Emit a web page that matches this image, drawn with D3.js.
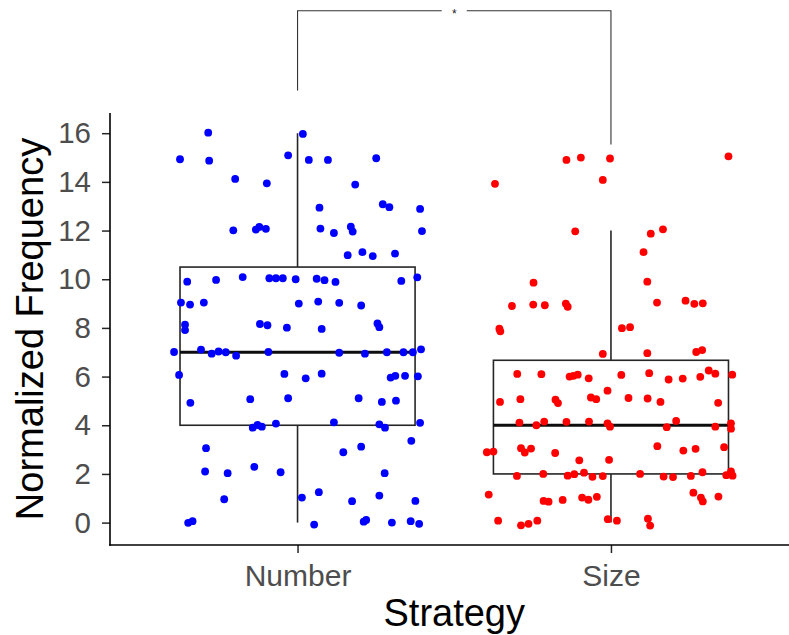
<!DOCTYPE html>
<html>
<head>
<meta charset="utf-8">
<script src="https://cdn.jsdelivr.net/npm/d3@7"></script>
<style>
  html, body { margin: 0; padding: 0; background: #fff; }
  svg { display: block; }
</style>
</head>
<body>
<script>
// Categories and colours
const categories = ["Number", "Size"];
const colors = ["#0000FF", "#FF0000"];

// Jittered observations: [horizontal jitter in category units, normalized frequency]
const numberPoints = [
  [-0.285,16.02],[-0.375,14.93],[-0.282,14.87],[-0.030,15.09],[-0.199,14.12],[-0.098,13.94],
  [-0.205,12.01],[-0.133,12.04],[-0.122,12.15],[-0.101,12.07],[-0.352,9.90],[-0.260,9.97],
  [-0.175,10.09],[-0.090,10.04],[-0.069,10.04],[-0.047,10.04],[-0.006,10.00],[-0.372,9.04],
  [-0.343,8.96],[-0.299,9.04],[0.004,9.00],[-0.359,8.13],[-0.120,8.16],[-0.096,8.11],
  [-0.034,8.01],[0.017,15.97],[0.036,14.90],[0.097,14.90],[0.251,14.97],[0.184,13.89],
  [0.070,12.94],[0.272,13.08],[0.293,12.96],[0.391,12.89],[0.073,12.08],[0.116,11.90],
  [0.170,12.16],[0.176,11.96],[0.397,11.98],[0.160,10.99],[0.207,11.11],[0.240,10.95],
  [0.311,11.05],[0.061,10.02],[0.086,9.96],[0.121,9.89],[0.331,9.93],[0.382,10.08],
  [0.066,9.08],[0.133,9.03],[0.203,8.92],[0.077,7.96],[0.255,8.18],[0.261,8.03],
  [-0.359,7.91],[-0.394,7.01],[-0.308,7.11],[-0.274,6.94],[-0.252,7.03],[-0.229,7.00],
  [-0.196,6.86],[-0.093,7.01],[-0.378,6.07],[-0.042,6.11],[-0.342,4.92],[-0.151,5.07],
  [-0.030,5.11],[-0.143,3.90],[-0.128,4.01],[-0.114,3.94],[-0.069,4.07],[-0.292,3.06],
  [-0.295,2.10],[-0.223,2.03],[-0.138,2.29],[-0.054,2.07],[-0.234,0.96],[-0.349,-0.01],
  [-0.335,0.06],[0.014,1.03],[0.133,6.98],[0.215,6.94],[0.285,7.00],[0.338,7.00],
  [0.368,7.00],[0.394,7.12],[0.026,5.93],[0.077,6.12],[0.297,5.96],[0.312,6.03],
  [0.343,6.03],[0.384,6.01],[0.195,5.11],[0.269,4.96],[0.314,5.01],[0.116,4.12],
  [0.261,4.04],[0.279,3.90],[0.391,4.10],[0.363,3.36],[0.146,2.89],[0.203,3.12],
  [0.278,2.03],[0.068,1.25],[0.174,0.88],[0.261,1.11],[0.376,0.89],[0.053,-0.08],
  [0.211,0.04],[0.219,0.11],[0.301,0.00],[0.361,0.06],[0.388,-0.05]
];

const sizePoints = [
  [-0.142,14.90],[-0.096,15.00],[-0.003,14.96],[-0.370,13.92],[-0.026,14.08],[-0.114,11.97],
  [-0.247,9.86],[-0.316,8.90],[-0.248,8.96],[-0.211,8.93],[-0.144,9.00],[-0.138,8.87],
  [-0.356,7.97],[-0.353,7.86],[0.375,15.05],[0.127,11.87],[0.166,12.05],[0.104,11.11],
  [0.116,9.90],[0.147,9.04],[0.238,9.12],[0.266,8.99],[0.293,9.01],[0.035,7.99],
  [0.061,8.03],[-0.026,6.93],[-0.299,6.11],[-0.222,6.10],[-0.132,6.00],[-0.120,6.03],
  [-0.106,6.08],[-0.071,5.93],[-0.011,5.42],[-0.354,4.96],[-0.289,5.07],[-0.177,5.05],
  [-0.169,4.91],[-0.064,5.14],[-0.047,5.07],[-0.292,4.11],[-0.238,4.00],[-0.213,4.15],
  [-0.142,4.14],[-0.070,4.15],[-0.011,4.08],[-0.396,2.89],[-0.375,2.92],[-0.287,3.06],
  [-0.275,2.88],[-0.255,3.04],[-0.178,2.86],[-0.101,2.56],[-0.006,2.58],[-0.300,1.92],
  [-0.216,2.00],[-0.138,1.93],[-0.117,1.99],[-0.086,2.05],[-0.059,1.88],[-0.026,1.91],
  [-0.390,1.15],[-0.215,0.89],[-0.199,0.86],[-0.154,0.93],[-0.092,1.03],[-0.072,0.94],
  [-0.045,1.06],[-0.360,0.08],[-0.287,-0.11],[-0.263,-0.05],[-0.235,0.08],[-0.010,0.14],
  [0.116,6.96],[0.272,7.01],[0.291,7.09],[0.033,6.07],[0.122,6.14],[0.184,5.88],
  [0.229,5.92],[0.285,5.99],[0.312,6.25],[0.333,6.12],[0.387,6.08],[0.056,5.12],
  [0.117,5.10],[0.158,4.96],[0.342,4.92],[-0.003,3.94],[0.178,3.92],[0.208,4.18],
  [0.333,3.94],[0.383,4.08],[0.383,3.86],[0.148,3.14],[0.231,2.96],[0.270,3.03],
  [0.361,3.10],[0.093,2.00],[0.168,1.89],[0.198,1.87],[0.255,1.92],[0.292,2.07],
  [0.368,1.95],[0.383,2.10],[0.388,1.93],[0.263,1.23],[0.287,1.03],[0.293,0.87],
  [0.343,1.07],[0.019,0.08],[0.118,0.16],[0.125,-0.12]
];

// Box summaries per category: [lower whisker, Q1, median, Q3, upper whisker]
const numberBox = [0, 4, 7, 10.5, 16];
const sizeBox = [0, 2, 4, 6.67, 12];

// Y axis tick values
const yTicks = [0, 2, 4, 6, 8, 10, 12, 14, 16];

// Significance annotation: bracket height, tip ends (left, right), label
const bracketY = 21.03;
const bracketTips = [17.75, 15.54];
const bracketLabel = "*";

const W = 789, H = 635;
const FONT = "'Liberation Sans', Arial, sans-serif";
const svg = d3.select("body").append("svg").attr("width", W).attr("height", H);

const panel = { left: 110, right: 799, top: 113, bottom: 545 };

const x = d3.scaleLinear().domain([0.4, 2.6]).range([panel.left - 0.5, panel.right]);
const y = d3.scaleLinear().domain([-0.92, 16.83]).range([panel.bottom, panel.top]);

const groups = [
  { name: categories[0], color: colors[0], pts: numberPoints, box: numberBox },
  { name: categories[1], color: colors[1], pts: sizePoints, box: sizeBox }
];

const boxW = 0.75;
const lineCol = "#262626";

groups.forEach((g, i) => {
  const c = i + 1;
  const [lo, q1, med, q3, hi] = g.box;
  const G = svg.append("g");
  // whiskers
  G.append("line").attr("x1", x(c)).attr("x2", x(c)).attr("y1", y(q3)).attr("y2", y(hi))
    .attr("stroke", lineCol).attr("stroke-width", 1.6);
  G.append("line").attr("x1", x(c)).attr("x2", x(c)).attr("y1", y(q1)).attr("y2", y(lo))
    .attr("stroke", lineCol).attr("stroke-width", 1.6);
  // box
  G.append("rect").attr("x", x(c - boxW / 2)).attr("width", x(c + boxW / 2) - x(c - boxW / 2))
    .attr("y", y(q3)).attr("height", y(q1) - y(q3))
    .attr("fill", "none").attr("stroke", lineCol).attr("stroke-width", 1.6);
  // median
  G.append("line").attr("x1", x(c - boxW / 2)).attr("x2", x(c + boxW / 2))
    .attr("y1", y(med)).attr("y2", y(med))
    .attr("stroke", "#0d0d0d").attr("stroke-width", 3.2);
});

// jittered points on top of the boxes
groups.forEach((g, i) => {
  const c = i + 1;
  svg.append("g").selectAll("circle").data(g.pts).join("circle")
    .attr("cx", d => x(c + d[0]))
    .attr("cy", d => y(d[1]))
    .attr("r", 3.9)
    .attr("fill", g.color);
});

// Y axis
const yAxis = d3.axisLeft(y).tickValues(yTicks).tickSize(8).tickPadding(11).tickFormat(d3.format("d"));
const gy = svg.append("g").attr("transform", `translate(${panel.left},0)`).call(yAxis);
gy.select(".domain").remove();
gy.append("line").attr("x1", 0).attr("x2", 0).attr("y1", panel.top).attr("y2", panel.bottom + 0.8)
  .attr("stroke", "#000").attr("stroke-width", 1.6);
gy.selectAll(".tick line").attr("stroke", lineCol).attr("stroke-width", 1.5);
gy.selectAll(".tick text").attr("fill", "#4D4D4D")
  .style("font-family", FONT).style("font-size", "29.5px");

// X axis
const xAxis = d3.axisBottom(x).tickValues([1, 2]).tickSize(8).tickPadding(12)
  .tickFormat(d => categories[d - 1]);
const gx = svg.append("g").attr("transform", `translate(0,${panel.bottom})`).call(xAxis);
gx.select(".domain").remove();
gx.append("line").attr("x1", panel.left - 0.8).attr("x2", W).attr("y1", 0).attr("y2", 0)
  .attr("stroke", "#000").attr("stroke-width", 1.6);
gx.selectAll(".tick line").attr("stroke", lineCol).attr("stroke-width", 1.5);
gx.selectAll(".tick text").attr("fill", "#4D4D4D")
  .style("font-family", FONT).style("font-size", "30px");

// Axis titles
svg.append("text").attr("x", x(1.5)).attr("y", 626).attr("text-anchor", "middle")
  .style("font-family", FONT).style("font-size", "38px")
  .attr("fill", "#000").text("Strategy");
svg.append("text")
  .attr("transform", `translate(43,${(panel.top + panel.bottom) / 2}) rotate(-90)`)
  .attr("text-anchor", "middle")
  .style("font-family", FONT).style("font-size", "38px")
  .attr("fill", "#000").text("Normalized Frequency");

// Significance bracket
const bx1 = x(1), bx2 = x(2), by = y(bracketY);
const mid = (bx1 + bx2) / 2, gap = 12.5;
const br = svg.append("g").attr("stroke", "#333").attr("stroke-width", 1.1).attr("fill", "none");
br.append("path").attr("d", `M${bx1},${y(bracketTips[0])}V${by}H${mid - gap}`);
br.append("path").attr("d", `M${mid + gap},${by}H${bx2}V${y(bracketTips[1])}`);
svg.append("text").attr("x", mid).attr("y", by + 7).attr("text-anchor", "middle")
  .style("font-family", FONT).style("font-size", "12px")
  .attr("fill", "#222").text(bracketLabel);
</script>
</body>
</html>
